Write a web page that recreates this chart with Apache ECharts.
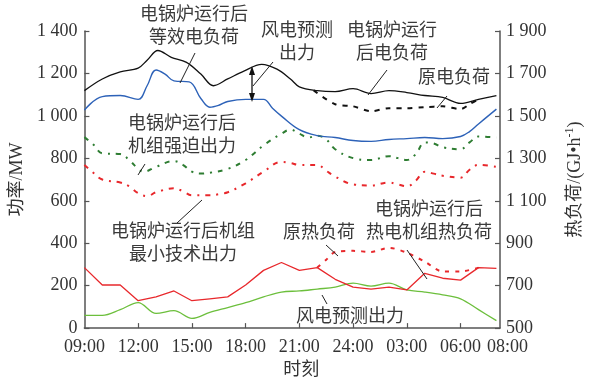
<!DOCTYPE html>
<html>
<head>
<meta charset="utf-8">
<script src="https://cdn.jsdelivr.net/npm/echarts@6/dist/echarts.min.js"></script>
<style>
  html, body { margin: 0; padding: 0; background: #fff; }
  #chart { width: 592px; height: 384px; }
</style>
</head>
<body>
<div id="chart"></div>
<script>
// Hours counted from 09:00 (0 = 09:00, 23 = 08:00 next day)
const tickHours = [0, 3, 6, 9, 12, 15, 18, 21, 23];
const tickLabels = ['09:00', '12:00', '15:00', '18:00', '21:00', '24:00', '03:00', '06:00', '08:00'];

// Electric load with boiler running, MW  [hour, value]
const loadAfter = [[0,1119],[1,1174],[2,1207],[3,1225],[3.5,1262],[4.1,1308],[4.85,1276],[5.7,1252],[6.5,1197],[7.2,1142],[8,1174],[8.9,1211],[9.9,1243],[10.75,1220],[11.5,1174],[12,1137],[13,1119],[14,1114],[15,1128],[16,1105],[17,1119],[18,1110],[19,1096],[20,1087],[21,1059],[22,1078],[23,1096]];
// Original electric load (night part where it differs), MW
const loadOrig = [[12.8,1120],[14,1055],[15,1045],[16,1022],[17,1036],[18,1036],[19,1041],[20,1045],[21,1032],[21.5,1055],[22,1078]];
// Equivalent electric load with boiler running, MW
const loadEquiv = [[0,1027],[1,1091],[2,1096],[3,1078],[3.5,1142],[4,1216],[4.5,1197],[5,1165],[5.85,1160],[6.5,1082],[7,1041],[7.5,1050],[8,1068],[9,1078],[10,1078],[10.5,1036],[11,999],[12,935],[13,907],[14,898],[15,884],[16,880],[17,889],[18,893],[19,898],[20,893],[21,903],[21.5,926],[22,962],[23,1032]];
// Forced output of units with boiler running, MW
const forcedOut = [[0,900],[0.5,865],[1,824],[2,820],[2.5,792],[3,750],[3.3,737],[4,760],[5,787],[5.5,769],[6,737],[6.5,728],[7,732],[8,750],[9,792],[10,861],[11,916],[11.5,935],[12,916],[12.5,898],[13,907],[13.5,889],[14,843],[15,801],[16,792],[17,810],[17.5,801],[18,792],[18.5,820],[19,875],[19.5,870],[20,852],[21,843],[21.5,875],[22,903],[23,898]];
// Minimum technical output of units with boiler running, MW
const minTechOut = [[0,769],[0.5,732],[1,700],[2,686],[2.5,668],[3,636],[3.5,622],[4,640],[5,659],[5.5,645],[6,626],[7,626],[7.5,631],[8,640],[9,682],[10,737],[11,783],[11.5,778],[12,769],[13,769],[13.5,741],[14,714],[15,677],[16,672],[17,686],[17.5,677],[18,668],[18.5,695],[19,737],[19.5,728],[20,718],[21,709],[21.5,746],[22,769],[23,760]];
// CHP heat load with boiler running, GJ/h (hourly)
const heatAfter = [785,703,703,629,647,675,629,638,647,703,772,809,772,785,730,693,684,693,680,758,735,726,785,781];
// Original heat load (night part where it differs), GJ/h
const heatOrig = [[13,785],[13.5,822],[14,859],[15,864],[16,859],[17,878],[18,855],[19,813],[20,767],[21,767],[22,785]];
// Forecast wind power output, MW (hourly)
const windOut = [60,60,87,120,69,82,46,74,97,120,147,170,175,184,193,212,198,212,180,170,157,138,87,35];

const FONT = '"Liberation Serif", "Noto Sans CJK SC"';
const AXIS_COLOR = '#555';
const TEXT_COLOR = '#333';

function hourly(values) {
  return values.map((v, i) => [i, v]);
}
function fmtThousands(v) {
  return v >= 1000 ? String(v).replace(/(\d)(\d{3})$/, '$1 $2') : String(v);
}

const chart = echarts.init(document.getElementById('chart'), null, { renderer: 'canvas' });

const axisLineStyle = { show: true, lineStyle: { color: AXIS_COLOR, width: 1.5 } };
const axisTickStyle = { show: true, inside: true, length: 5, lineStyle: { color: AXIS_COLOR, width: 1.2 } };

function textEl(text, x, y) {
  return {
    type: 'text', x: x, y: y, z: 100,
    style: { text: text, font: '18px ' + FONT, fill: '#3a3a3a', align: 'center', verticalAlign: 'middle', lineHeight: 23 }
  };
}
function leader(x1, y1, x2, y2) {
  return { type: 'line', z: 100, shape: { x1, y1, x2, y2 }, style: { stroke: '#222', lineWidth: 1 } };
}

chart.setOption({
  animation: false,
  backgroundColor: '#fff',
  grid: { left: 82, right: 89, top: 31, bottom: 49, containLabel: false },
  xAxis: {
    type: 'value', min: 0, max: 23.2,
    name: '时刻', nameLocation: 'middle', nameGap: 27,
    nameTextStyle: { fontFamily: FONT, fontSize: 18, color: TEXT_COLOR, padding: [0, 0, 0, 18] },
    axisLine: axisLineStyle,
    axisTick: Object.assign({ customValues: tickHours.slice(1, -1) }, axisTickStyle),
    axisLabel: {
      customValues: tickHours, margin: 10,
      fontFamily: FONT, fontSize: 18, color: TEXT_COLOR,
      formatter: function (v) {
        const i = tickHours.indexOf(v);
        if (i < 0) return '';
        return i === tickHours.length - 1 ? '{last|' + tickLabels[i] + '}' : tickLabels[i];
      },
      rich: { last: { fontFamily: FONT, fontSize: 18, color: TEXT_COLOR, padding: [0, 0, 0, 22] } }
    },
    splitLine: { show: false }
  },
  yAxis: [
    {
      type: 'value', min: 0, max: 1400, interval: 200, position: 'left',
      name: '功率/MW', nameLocation: 'middle', nameRotate: 90, nameGap: 50,
      nameTextStyle: { fontFamily: FONT, fontSize: 18, color: TEXT_COLOR },
      axisLine: axisLineStyle, axisTick: axisTickStyle,
      axisLabel: { fontFamily: FONT, fontSize: 18, color: TEXT_COLOR, margin: 7, formatter: fmtThousands },
      splitLine: { show: false }
    },
    {
      type: 'value', min: 500, max: 1900, interval: 200, position: 'right',
      name: '热负荷/(GJ•h{sup|-1})', nameLocation: 'middle', nameRotate: 90, nameGap: 64,
      nameTextStyle: {
        fontFamily: FONT, fontSize: 18, color: TEXT_COLOR, padding: [0, 0, 0, 0],
        rich: { sup: { fontFamily: FONT, fontSize: 12, color: TEXT_COLOR, padding: [0, 0, 10, 0] } }
      },
      axisLine: axisLineStyle, axisTick: axisTickStyle,
      axisLabel: { fontFamily: FONT, fontSize: 18, color: TEXT_COLOR, margin: 6, formatter: fmtThousands },
      splitLine: { show: false }
    }
  ],
  series: [
    {
      name: '风电预测出力', type: 'line', yAxisIndex: 0, data: hourly(windOut), smooth: 0.35,
      symbol: 'none', lineStyle: { color: '#6cbf3c', width: 1.3 }
    },
    {
      name: '电锅炉运行后热电机组热负荷', type: 'line', yAxisIndex: 1, data: hourly(heatAfter),
      symbol: 'none', lineStyle: { color: '#e8282c', width: 1.3 }
    },
    {
      name: '原热负荷', type: 'line', yAxisIndex: 1, data: heatOrig, smooth: 0.3,
      symbol: 'none', lineStyle: { color: '#e8282c', width: 2, type: [4, 6] }
    },
    {
      name: '电锅炉运行后机组最小技术出力', type: 'line', yAxisIndex: 0, data: minTechOut, smooth: 0.4,
      symbol: 'none', lineStyle: { color: '#e8282c', width: 2, type: [5, 6, 2, 6] }
    },
    {
      name: '电锅炉运行后机组强迫出力', type: 'line', yAxisIndex: 0, data: forcedOut, smooth: 0.4,
      symbol: 'none', lineStyle: { color: '#2e7d32', width: 2, type: [5, 6, 2, 6] }
    },
    {
      name: '电锅炉运行后等效电负荷', type: 'line', yAxisIndex: 0, data: loadEquiv, smooth: 0.4,
      symbol: 'none', lineStyle: { color: '#2d62b8', width: 1.4 }
    },
    {
      name: '原电负荷', type: 'line', yAxisIndex: 0, data: loadOrig, smooth: 0.3,
      symbol: 'none', lineStyle: { color: '#111', width: 2, type: [5, 6] }
    },
    {
      name: '电锅炉运行后电负荷', type: 'line', yAxisIndex: 0, data: loadAfter, smooth: 0.35,
      symbol: 'none', lineStyle: { color: '#111', width: 1.3 }
    }
  ],
  graphic: [
    textEl('电锅炉运行后\n等效电负荷', 194, 27),
    leader(195, 53, 180, 83),
    textEl('风电预测\n出力', 297, 43),
    leader(273, 62, 253, 86),
    // double arrow marking the wind output gap
    { type: 'line', z: 100, shape: { x1: 252, y1: 72, x2: 252, y2: 97 }, style: { stroke: '#111', lineWidth: 1.3 } },
    { type: 'polygon', z: 100, shape: { points: [[252, 66], [249, 75], [255, 75]] }, style: { fill: '#111' } },
    { type: 'polygon', z: 100, shape: { points: [[252, 102], [249, 93], [255, 93]] }, style: { fill: '#111' } },
    textEl('电锅炉运行\n后电负荷', 392, 43),
    leader(387, 70, 368, 95),
    textEl('原电负荷', 454, 78),
    leader(447, 96, 437, 108),
    textEl('电锅炉运行后\n机组强迫出力', 182, 136),
    leader(145, 164, 138, 175),
    textEl('电锅炉运行后机组\n最小技术出力', 183, 244),
    leader(177, 223, 202, 200),
    textEl('原热负荷', 319, 233),
    leader(326, 245, 338, 256),
    textEl('电锅炉运行后\n热电机组热负荷', 429, 222),
    leader(407, 250, 427, 279),
    textEl('风电预测出力', 350, 317),
    leader(322, 295, 327, 304)
  ]
});
</script>
</body>
</html>
